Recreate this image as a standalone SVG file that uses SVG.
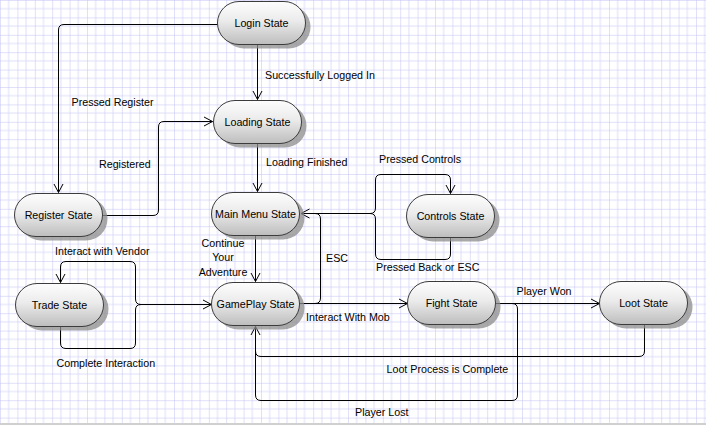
<svg xmlns="http://www.w3.org/2000/svg" width="706" height="425" viewBox="0 0 706 425">
<style>
.node rect.body{fill:url(#ng);stroke:#3c3c3c;stroke-width:1}
.node rect.sh{fill:#8c8c8c;opacity:0.75}
.node text{font-family:"Liberation Sans",Arial,sans-serif;font-size:10.7px;fill:#000;text-anchor:middle}
.lbl{font-family:"Liberation Sans",Arial,sans-serif;font-size:10.7px;fill:#000}
#edges path{fill:none;stroke:#000;stroke-width:1}
</style>
<defs>
<linearGradient id="ng" x1="0" y1="0" x2="0" y2="1">
<stop offset="0" stop-color="#fdfdfd"/>
<stop offset="0.45" stop-color="#ebebeb"/>
<stop offset="1" stop-color="#bdbdbd"/>
</linearGradient>
<pattern id="grid" x="0" y="0" width="17.4" height="17.4" patternUnits="userSpaceOnUse">
<rect width="17.4" height="17.4" fill="#fff"/>
<line x1="8.7" y1="0" x2="8.7" y2="17.4" stroke="#dedefa" stroke-width="1"/>
<line x1="0" y1="8.7" x2="17.4" y2="8.7" stroke="#dedefa" stroke-width="1"/>
<line x1="0" y1="0" x2="0" y2="17.4" stroke="#c2c2f6" stroke-width="1"/>
<line x1="0" y1="0" x2="17.4" y2="0" stroke="#c2c2f6" stroke-width="1"/>
</pattern>
<marker id="arr" viewBox="-10 -6 12 12" refX="0" refY="0" markerWidth="12" markerHeight="12" markerUnits="userSpaceOnUse" orient="auto">
<path d="M-8.5,-4.5 L0,0 L-8.5,4.5" fill="none" stroke="#000" stroke-width="1"/>
</marker>
</defs>
<rect width="706" height="425" fill="url(#grid)"/>
<rect x="0" y="423" width="706" height="2" fill="#d0d0d0"/>

<g id="edges">
<path d="M257.5,45 V99.5" marker-end="url(#arr)"/>
<path d="M218,24.5 H64 Q58.5,24.5 58.5,30 V192.5" marker-end="url(#arr)"/>
<path d="M103,215.5 H153 Q158.5,215.5 158.5,210 V127 Q158.5,121.5 164,121.5 H212.5" marker-end="url(#arr)"/>
<path d="M257.5,144 V191.5" marker-end="url(#arr)"/>
<path d="M255.5,236 V281.5" marker-end="url(#arr)"/>
<path d="M300,303.5 H315 Q320.5,303.5 320.5,298 V219 Q320.5,213.5 315,213.5 H301" marker-end="url(#arr)"/>
<path d="M301,213.5 H370 Q375.5,213.5 375.5,208 V180 Q375.5,174.5 381,174.5 H445 Q450.5,174.5 450.5,180 V193.5" marker-end="url(#arr)"/>
<path d="M450.5,238 V254 Q450.5,259.5 445,259.5 H381 Q375.5,259.5 375.5,254 V219 Q375.5,213.5 370,213.5 H301"/>
<path d="M300,303.5 H407.5" marker-end="url(#arr)"/>
<path d="M496,303.5 H599.5" marker-end="url(#arr)"/>
<path d="M644.5,325 V351 Q644.5,356.5 639,356.5 H261 Q255.5,356.5 255.5,351 V326.5" marker-end="url(#arr)"/>
<path d="M496,303.5 H512 Q517.5,303.5 517.5,309 V395 Q517.5,400.5 512,400.5 H261 Q255.5,400.5 255.5,395 V326.5"/>
<path d="M212,304.5 H141 Q135.5,304.5 135.5,299 V267 Q135.5,261.5 130,261.5 H66 Q60.5,261.5 60.5,267 V282.5" marker-end="url(#arr)"/>
<path d="M60.5,327 V343 Q60.5,348.5 66,348.5 H130 Q135.5,348.5 135.5,343 V310 Q135.5,304.5 141,304.5 H211.5" marker-end="url(#arr)"/>
</g>

<g id="labels">
<text class="lbl" x="265" y="79">Successfully Logged In</text>
<text class="lbl" x="71.5" y="105.5">Pressed Register</text>
<text class="lbl" x="99" y="168">Registered</text>
<text class="lbl" x="266" y="166">Loading Finished</text>
<text class="lbl" x="223" y="247" text-anchor="middle">Continue</text>
<text class="lbl" x="223" y="261" text-anchor="middle">Your</text>
<text class="lbl" x="223" y="275.5" text-anchor="middle">Adventure</text>
<text class="lbl" x="326" y="262">ESC</text>
<text class="lbl" x="379" y="163">Pressed Controls</text>
<text class="lbl" x="376" y="271">Pressed Back or ESC</text>
<text class="lbl" x="55" y="255">Interact with Vendor</text>
<text class="lbl" x="56.5" y="367">Complete Interaction</text>
<text class="lbl" x="306" y="321">Interact With Mob</text>
<text class="lbl" x="516.5" y="295">Player Won</text>
<text class="lbl" x="386.5" y="373">Loot Process is Complete</text>
<text class="lbl" x="355" y="416">Player Lost</text>
</g>

<g id="login" class="node"><rect class="sh" x="222.5" y="5.5" width="88" height="43" rx="21.5"/><rect class="body" x="217.5" y="1.5" width="88" height="43" rx="21.5"/><text x="261.5" y="27">Login State</text></g>
<g id="loading" class="node"><rect class="sh" x="218.5" y="104.5" width="88" height="43" rx="21.5"/><rect class="body" x="213.5" y="100.5" width="88" height="43" rx="21.5"/><text x="257.5" y="126">Loading State</text></g>
<g id="mainmenu" class="node"><rect class="sh" x="216.5" y="196.5" width="88" height="43" rx="21.5"/><rect class="body" x="211.5" y="192.5" width="88" height="43" rx="21.5"/><text x="255.5" y="218">Main Menu State</text></g>
<g id="gameplay" class="node"><rect class="sh" x="216.5" y="286.5" width="88" height="43" rx="21.5"/><rect class="body" x="211.5" y="282.5" width="88" height="43" rx="21.5"/><text x="255.5" y="308">GamePlay State</text></g>
<g id="register" class="node"><rect class="sh" x="19.5" y="197.5" width="88" height="43" rx="21.5"/><rect class="body" x="14.5" y="193.5" width="88" height="43" rx="21.5"/><text x="58.5" y="219">Register State</text></g>
<g id="trade" class="node"><rect class="sh" x="20.5" y="287.5" width="88" height="43" rx="21.5"/><rect class="body" x="15.5" y="283.5" width="88" height="43" rx="21.5"/><text x="59.5" y="309">Trade State</text></g>
<g id="controls" class="node"><rect class="sh" x="411.5" y="198.5" width="88" height="43" rx="21.5"/><rect class="body" x="406.5" y="194.5" width="88" height="43" rx="21.5"/><text x="450.5" y="220">Controls State</text></g>
<g id="fight" class="node"><rect class="sh" x="412.5" y="285.5" width="88" height="43" rx="21.5"/><rect class="body" x="407.5" y="281.5" width="88" height="43" rx="21.5"/><text x="451.5" y="307">Fight State</text></g>
<g id="loot" class="node"><rect class="sh" x="604.5" y="285.5" width="88" height="43" rx="21.5"/><rect class="body" x="599.5" y="281.5" width="88" height="43" rx="21.5"/><text x="643.5" y="307">Loot State</text></g>
</svg>
